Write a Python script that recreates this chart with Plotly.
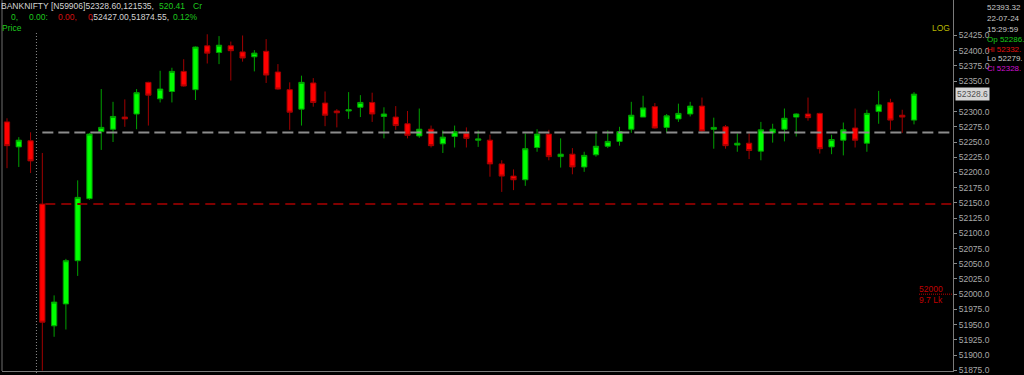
import plotly.graph_objects as go

# ---------------- data (5-min candles; first 3 from previous session) ----------------
opens = [52283, 52242, 52252, 52148, 51948, 51984, 52055, 52157, 52267, 52271,
         52291, 52296, 52348, 52321, 52333, 52366, 52336, 52408, 52397, 52408,
         52398, 52390, 52399, 52365, 52336, 52304, 52347, 52314, 52301, 52301,
         52307, 52315, 52292, 52291, 52280, 52260, 52271, 52247, 52259, 52264,
         52253, 52253, 52214, 52194, 52188, 52241, 52263, 52226, 52230, 52209,
         52229, 52243, 52251, 52271, 52291, 52308, 52274, 52288, 52296, 52309,
         52271, 52275, 52245, 52248, 52235, 52265, 52271, 52291, 52296, 52297,
         52242, 52253, 52273, 52248, 52300, 52315, 52294, 52286]
highs = [52289, 52258, 52266, 52232, 51998, 52058, 52187, 52265, 52337, 52316,
         52320, 52337, 52349, 52367, 52372, 52386, 52407, 52427, 52424, 52415,
         52425, 52401, 52419, 52378, 52348, 52359, 52355, 52333, 52304, 52332,
         52327, 52331, 52307, 52309, 52301, 52305, 52277, 52269, 52277, 52274,
         52269, 52262, 52220, 52205, 52264, 52271, 52270, 52256, 52240, 52234,
         52268, 52269, 52275, 52316, 52326, 52314, 52296, 52313, 52316, 52323,
         52290, 52278, 52264, 52264, 52283, 52280, 52305, 52297, 52323, 52298,
         52262, 52282, 52305, 52303, 52334, 52321, 52303, 52332]
lows = [52207, 52209, 52199, 51874.55, 51930, 51942, 52030, 52155, 52237, 52250,
        52275, 52271, 52277, 52315, 52315, 52341, 52319, 52379, 52378, 52351,
        52382, 52366, 52347, 52336, 52270, 52277, 52308, 52276, 52274, 52288,
        52291, 52283, 52256, 52270, 52256, 52257, 52241, 52232, 52241, 52241,
        52242, 52193, 52168, 52171, 52178, 52234, 52220, 52208, 52197, 52201,
        52226, 52240, 52244, 52265, 52291, 52272, 52266, 52283, 52292, 52264,
        52239, 52239, 52234, 52222, 52220, 52249, 52251, 52259, 52285, 52231,
        52230, 52228, 52241, 52234, 52280, 52270, 52265, 52279]
closes = [52244, 52253, 52219, 51954, 51987, 52055, 52159, 52263, 52274, 52292,
          52288, 52331, 52327, 52337, 52366, 52342, 52406, 52396, 52409, 52400,
          52388, 52396, 52360, 52337, 52299, 52348, 52315, 52294, 52298, 52303,
          52315, 52296, 52296, 52277, 52261, 52271, 52244, 52258, 52267, 52256,
          52255, 52214, 52194, 52188, 52239, 52263, 52226, 52230, 52209, 52228,
          52243, 52251, 52267, 52294, 52306, 52273, 52293, 52297, 52309, 52268,
          52274, 52244, 52248, 52236, 52270, 52271, 52289, 52296, 52290, 52239,
          52254, 52270, 52253, 52297, 52311, 52286, 52291, 52328.6]

prev_close = 52265.75
day_open = 52148
session_break = 2.5
last_price = 52328.6
marker_level = 52000
# tick labels shown on the price axis (52325 sits under the last-price tag)
y_ticks = [51875, 51900, 51925, 51950, 51975, 52000, 52025, 52050, 52075, 52100,
           52125, 52150, 52175, 52200, 52225, 52250, 52275, 52300, 52350, 52375,
           52400, 52425]

header1 = [("BANKNIFTY [N59906]52328.60,121535,", "#d4d4d4", -1), ("520.41", "g", 157), ("Cr", "g", 191)]
header2 = [("0,", "g", 9), ("0.00:", "g", 27), ("0.00,", "r", 56), ("0", "r", 86),
           (",52427.00,51874.55,", "#d4d4d4", 89), ("0.12%", "g", 171)]
info_lines = ["52393.32", "22-07-24", "15:29:59", "Op 52286.", "Hi 52332.", "Lo 52279.", "Cl 52328."]

# ---------------- layout helpers ----------------
W, H = 1024, 375
ML, MR, MT, MB = 2, 71, 0, 4
PW, PH = W - ML - MR, H - MT - MB


def px(x):
    return (x - ML) / PW


def py(y):
    return (H - MB - y) / PH


# axis ranges (from the reference scale)
y_top, y_bot = 52483.3, 51873.8
x_lo, x_hi = -0.425, 80.31

GRAY = "#a8a8a8"
GREEN = "#1ec81e"
RED = "#d41010"
CMAP = {"g": GREEN, "r": RED}

fig = go.Figure()
fig.add_trace(go.Candlestick(
    x=list(range(len(opens))), open=opens, high=highs, low=lows, close=closes,
    increasing=dict(fillcolor="#00ff00", line=dict(color="#00a000", width=1)),
    decreasing=dict(fillcolor="#ff0000", line=dict(color="#a00000", width=1)),
    whiskerwidth=0, hoverinfo="skip", showlegend=False,
))

shapes = [
    dict(type="line", xref="x", yref="y", x0=3.0, x1=x_hi, y0=prev_close, y1=prev_close,
         line=dict(color="#8c8c8c", width=2, dash="11px,5px")),
    dict(type="line", xref="x", yref="y", x0=3.25, x1=x_hi, y0=day_open, y1=day_open,
         line=dict(color="#800000", width=2, dash="10px,6px")),
    dict(type="line", xref="x", yref="paper", x0=session_break, x1=session_break,
         y0=py(376), y1=py(32), line=dict(color="#8c8c8c", width=1, dash="1px,2px")),
    dict(type="line", xref="paper", yref="paper", x0=0, x1=0, y0=0, y1=1,
         line=dict(color="#6e6e6e", width=1)),
    dict(type="line", xref="paper", yref="y", x0=px(919), x1=1, y0=marker_level, y1=marker_level,
         line=dict(color="#c00000", width=1, dash="1px,1px")),
]

ann = []


def txt(x, y, s, color, size=8.5, anchor="left"):
    ann.append(dict(x=px(x), y=py(y), xref="paper", yref="paper", text=s, showarrow=False,
                    xanchor=anchor, yanchor="middle",
                    font=dict(family="Liberation Sans", size=size, color=color)))


for s, c, x in header1:
    txt(x, 6, s, CMAP.get(c, c))
for s, c, x in header2:
    txt(x, 17.5, s, CMAP.get(c, c))
txt(0, 28.5, "Price", GREEN)

txt(952, 28.5, "LOG", "#b8b800", anchor="right")

info_colors = ["#c8c8c8", "#c8c8c8", "#c8c8c8", "#19c819", "#e01010", "#c8c8c8", "#d010d0"]
info_y = [7.3, 18.3, 29, 39.5, 49.3, 58.6, 68.2]
for s, c, yy in zip(info_lines, info_colors, info_y):
    txt(985, yy, s, c, size=8)

txt(945, 288.5, "52000", "#c00000")
txt(945, 300, "9.7 Lk", "#c00000")
ann[-1]["xanchor"] = "right"
ann[-2]["xanchor"] = "right"

ann.append(dict(x=px(955), y=last_price, xref="paper", yref="y", text="52328.6", showarrow=False,
                xanchor="left", yanchor="middle", bgcolor="#d6d6d6", borderpad=1,
                font=dict(family="Liberation Sans", size=8.5, color="#505050")))

fig.update_layout(
    width=W, height=H,
    margin=dict(l=ML, r=MR, t=MT, b=MB, autoexpand=False),
    paper_bgcolor="black", plot_bgcolor="black",
    boxgap=0.36,
    shapes=shapes, annotations=ann,
    xaxis=dict(range=[x_lo, x_hi], showgrid=False, zeroline=False, showticklabels=False,
               ticks="", showline=True, linecolor="#7a7a7a", linewidth=1,
               rangeslider=dict(visible=False), fixedrange=True),
    yaxis=dict(range=[y_bot, y_top], side="right", showgrid=False, zeroline=False,
               tickvals=y_ticks, tickformat=".1f", ticks="outside", ticklen=3,
               tickcolor="#8a8a8a", showline=True, linecolor="#7a7a7a", linewidth=1,
               ticklabeloverflow="allow",
               tickfont=dict(family="Liberation Sans", size=8.5, color=GRAY), fixedrange=True),
    showlegend=False,
)

fig.write_html("out.html", config=dict(displayModeBar=False))
